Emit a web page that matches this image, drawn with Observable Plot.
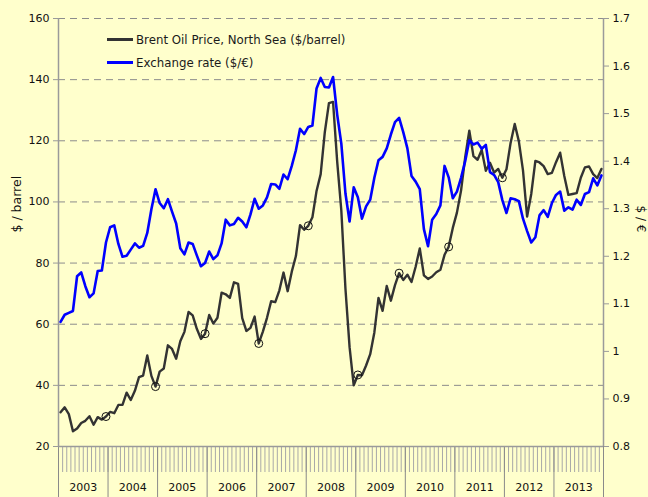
<!DOCTYPE html>
<html>
<head>
<meta charset="utf-8">
<script src="https://cdn.jsdelivr.net/npm/d3@7"></script>
<script src="https://cdn.jsdelivr.net/npm/@observablehq/plot@0.6"></script>
<style>
  html, body { margin: 0; padding: 0; background: #FFFFCC; }
  #chart { position: relative; width: 648px; height: 497px; overflow: hidden; }
  .legend { position: absolute; left: 107px; top: 28px; font-family: "DejaVu Sans", sans-serif; font-size: 11.8px; color: #1a1a1a; }
  .legend .row { display: flex; align-items: center; height: 23px; }
  .legend .sw { width: 26px; height: 3px; margin-right: 3px; }
</style>
</head>
<body>
<div id="chart"></div>
<script>
// ---- data ----
const yearLabels = ["2003","2004","2005","2006","2007","2008","2009","2010","2011","2012","2013"];

// Brent Oil Price, North Sea ($/barrel), monthly Jan 2003 - Dec 2013
const brent = [
  31.2, 32.8, 30.6, 25.0, 25.9, 27.7, 28.4, 29.9, 27.1, 29.6, 28.8, 29.8,
  31.3, 30.9, 33.6, 33.6, 37.6, 35.2, 38.2, 42.7, 43.2, 49.8, 43.1, 39.6,
  44.5, 45.5, 53.1, 51.9, 48.7, 54.4, 57.5, 64.0, 62.9, 58.5, 55.2, 56.9,
  63.0, 60.2, 62.1, 70.3, 69.8, 68.6, 73.7, 73.2, 62.0, 57.8, 58.8, 62.5,
  53.7, 57.6, 62.1, 67.5, 67.2, 71.1, 76.9, 70.8, 77.2, 82.3, 92.4, 90.9,
  92.2, 95.0, 103.6, 109.1, 122.8, 132.3, 132.7, 113.2, 97.2, 71.6, 52.5, 40.0,
  43.4, 43.3, 46.5, 50.2, 57.3, 68.6, 64.4, 72.5, 67.7, 72.8, 76.7, 74.5,
  76.2, 73.8, 78.8, 84.8, 76.0, 74.8, 75.6, 77.0, 77.8, 82.7, 85.3, 91.5,
  96.5, 103.7, 114.6, 123.3, 115.0, 113.8, 117.0, 110.2, 112.8, 109.6, 110.8, 107.9,
  110.7, 119.3, 125.5, 119.8, 110.3, 95.2, 102.6, 113.4, 112.9, 111.7, 109.1, 109.5,
  113.0, 116.1, 108.5, 102.3, 102.6, 102.9, 107.9, 111.3, 111.6, 109.1, 107.8, 110.8
];

// Exchange rate ($/€), monthly Jan 2003 - Dec 2013
const usdPerEur = [
  1.062, 1.077, 1.081, 1.085, 1.158, 1.166, 1.137, 1.114, 1.122, 1.169, 1.170, 1.229,
  1.261, 1.265, 1.226, 1.199, 1.201, 1.214, 1.227, 1.218, 1.222, 1.249, 1.299, 1.341,
  1.312, 1.301, 1.320, 1.294, 1.269, 1.217, 1.204, 1.229, 1.226, 1.202, 1.179, 1.186,
  1.210, 1.194, 1.202, 1.227, 1.277, 1.265, 1.268, 1.281, 1.273, 1.261, 1.288, 1.321,
  1.300, 1.307, 1.324, 1.352, 1.351, 1.342, 1.372, 1.362, 1.390, 1.423, 1.468, 1.457,
  1.472, 1.475, 1.553, 1.575, 1.556, 1.555, 1.577, 1.498, 1.437, 1.332, 1.273, 1.345,
  1.324, 1.279, 1.305, 1.319, 1.365, 1.402, 1.409, 1.427, 1.456, 1.482, 1.491, 1.461,
  1.427, 1.369, 1.357, 1.341, 1.257, 1.221, 1.277, 1.289, 1.307, 1.390, 1.366, 1.322,
  1.336, 1.365, 1.400, 1.444, 1.435, 1.439, 1.426, 1.434, 1.377, 1.371, 1.356, 1.318,
  1.291, 1.322, 1.320, 1.316, 1.279, 1.253, 1.229, 1.240, 1.286, 1.297, 1.283, 1.312,
  1.329, 1.336, 1.296, 1.303, 1.298, 1.319, 1.308, 1.331, 1.335, 1.364, 1.349, 1.370
];

// months (index from Jan 2003) carrying a circle marker on the Brent line
const markedMonths = [11, 23, 35, 48, 60, 72, 82, 94, 107];

const leftTicks = [20, 40, 60, 80, 100, 120, 140, 160];
const gridValues = [40, 60, 80, 100, 120, 140, 160];
const rightTicks = [0.8, 0.9, 1.0, 1.1, 1.2, 1.3, 1.4, 1.5, 1.6, 1.7];

const seriesNames = ["Brent Oil Price, North Sea ($/barrel)", "Exchange rate ($/€)"];
const seriesColors = ["#333333", "#0000ff"];
const leftLabel = "$ / barrel";
const rightLabel = "$ / €";

// ---- derived ----
const L = [20, 160], R = [0.8, 1.7];
const toLeft = v => L[0] + (v - R[0]) * (L[1] - L[0]) / (R[1] - R[0]);
const fromLeft = v => R[0] + (v - L[0]) * (R[1] - R[0]) / (L[1] - L[0]);
const nMonths = brent.length;
const rows = brent.map((b, i) => ({m: i + 0.5, brent: b, fx: toLeft(usdPerEur[i])}));
const marked = markedMonths.map(i => rows[i]);
const monthBounds = d3.range(0, nMonths + 1);
const yearBounds = d3.range(0, nMonths + 1, 12);
const yearCenters = yearLabels.map((_, k) => k * 12 + 6);
const axisGray = "#9a9a9a";

const chart = Plot.plot({
  width: 648,
  height: 497,
  marginLeft: 58,
  marginRight: 45,
  marginTop: 18,
  marginBottom: 51,
  style: {background: "#FFFFCC", fontFamily: "DejaVu Sans, sans-serif", fontSize: "11px", color: "#111"},
  x: {type: "linear", domain: [0, nMonths]},
  y: {domain: L},
  marks: [
    Plot.ruleY(gridValues, {stroke: "#8c8c8c", strokeDasharray: "7,5", strokeWidth: 1}),
    // month comb and year separators
    Plot.axisX(monthBounds, {tickSize: 26, tickFormat: () => "", stroke: "#a8a8a8", strokeWidth: 1, label: null}),
    Plot.axisX(yearBounds, {tickSize: 51, tickFormat: () => "", stroke: "#8a8a8a", strokeWidth: 1, label: null}),
    Plot.axisX(yearCenters, {tickSize: 0, tickPadding: 37, tickFormat: d => yearLabels[Math.floor(d / 12)], label: null, fill: "#111"}),
    // axes lines
    Plot.ruleY([L[0]], {stroke: axisGray, strokeWidth: 1.5}),
    Plot.ruleX([0, nMonths], {stroke: axisGray, strokeWidth: 1.5}),
    Plot.axisY(leftTicks, {anchor: "left", tickSize: 5, tickPadding: 4, stroke: axisGray, label: null}),
    Plot.text([leftLabel], {frameAnchor: "left", rotate: -90, dx: -42, fontSize: 12.5, fill: "#111"}),
    Plot.axisY(rightTicks.map(toLeft), {anchor: "right", tickSize: 5, tickPadding: 4, stroke: axisGray, label: null,
      tickFormat: d => d3.format("~g")(+fromLeft(d).toFixed(2))}),
    Plot.text([rightLabel], {frameAnchor: "right", rotate: 90, dx: 37, fontSize: 12, fill: "#111"}),
    // data
    Plot.line(rows, {x: "m", y: "brent", stroke: seriesColors[0], strokeWidth: 2.4}),
    Plot.line(rows, {x: "m", y: "fx", stroke: seriesColors[1], strokeWidth: 2.6}),
    Plot.dot(marked, {x: "m", y: "brent", r: 4, stroke: "#111", fill: "none", strokeWidth: 1})
  ]
});

const host = document.getElementById("chart");
host.appendChild(chart);

const legend = document.createElement("div");
legend.className = "legend";
seriesNames.forEach((name, k) => {
  const row = document.createElement("div");
  row.className = "row";
  const sw = document.createElement("span");
  sw.className = "sw";
  sw.style.background = seriesColors[k];
  const tx = document.createElement("span");
  tx.textContent = name;
  row.appendChild(sw);
  row.appendChild(tx);
  legend.appendChild(row);
});
host.appendChild(legend);
</script>
</body>
</html>
